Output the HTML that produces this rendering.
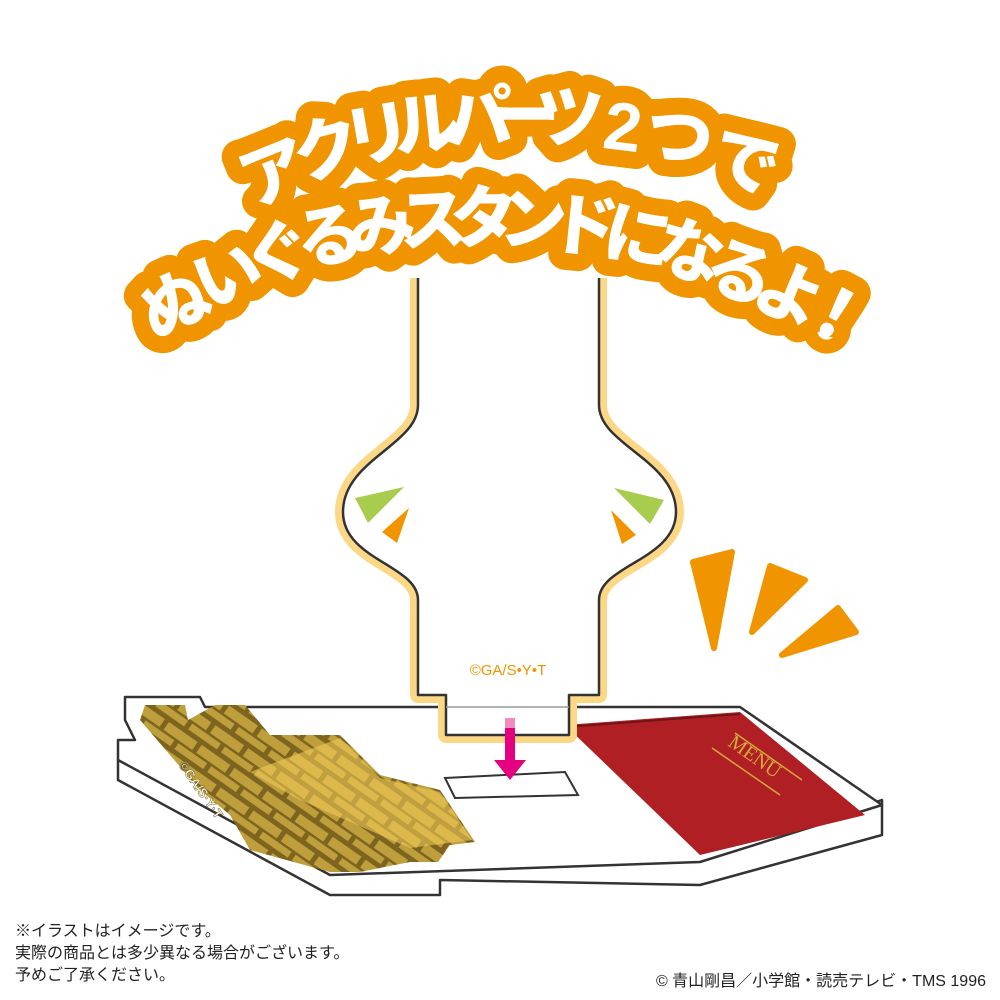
<!DOCTYPE html>
<html><head><meta charset="utf-8"><style>
body{margin:0;background:#fff;}
svg{display:block}
</style></head><body>
<svg width="1000" height="1000" viewBox="0 0 1000 1000" xmlns="http://www.w3.org/2000/svg">
<defs>
<pattern id="brick" width="40" height="24" patternUnits="userSpaceOnUse" patternTransform="rotate(35)">
<rect width="40" height="24" fill="#bf9e3c"/>
<path d="M0 0H40M0 12H40M10 0V12M30 12V24" stroke="#7d6520" stroke-width="5" fill="none"/>
</pattern>
</defs>
<!-- Title -->
<g font-family="'Liberation Sans','Noto Sans CJK JP',sans-serif" font-weight="900" font-size="68" text-anchor="middle">
<g fill="#f09400" stroke="#f09400" stroke-width="34" stroke-linejoin="round">
<text transform="translate(283,195) rotate(-22)">ア</text>
<text transform="translate(333,172) rotate(-15)">ク</text>
<text transform="translate(382,158) rotate(-10)">リ</text>
<text transform="translate(430,148) rotate(-6)">ル</text>
<text transform="translate(480,142) rotate(-3)">パ</text>
<text transform="translate(526,140)">ー</text>
<text transform="translate(568,142) rotate(3)">ツ</text>
<text transform="translate(620,150) rotate(7)">2</text>
<text transform="translate(674,160) rotate(12)">つ</text>
<text transform="translate(738,185) rotate(18)">で</text>
<text transform="translate(185,325) rotate(-25)">ぬ</text>
<text transform="translate(236,298) rotate(-20)">い</text>
<text transform="translate(284,276) rotate(-15)">ぐ</text>
<text transform="translate(334,260) rotate(-10)">る</text>
<text transform="translate(384,250) rotate(-6)">み</text>
<text transform="translate(434,244) rotate(-3)">ス</text>
<text transform="translate(484,242)">タ</text>
<text transform="translate(532,244) rotate(3)">ン</text>
<text transform="translate(582,250) rotate(6)">ド</text>
<text transform="translate(634,260) rotate(10)">に</text>
<text transform="translate(684,275) rotate(15)">な</text>
<text transform="translate(732,295) rotate(20)">る</text>
<text transform="translate(780,316) rotate(24)">よ</text>
<text transform="translate(824,335) rotate(28)">！</text>
</g>
<g fill="#fff">
<text transform="translate(283,195) rotate(-22)">ア</text>
<text transform="translate(333,172) rotate(-15)">ク</text>
<text transform="translate(382,158) rotate(-10)">リ</text>
<text transform="translate(430,148) rotate(-6)">ル</text>
<text transform="translate(480,142) rotate(-3)">パ</text>
<text transform="translate(526,140)">ー</text>
<text transform="translate(568,142) rotate(3)">ツ</text>
<text transform="translate(620,150) rotate(7)">2</text>
<text transform="translate(674,160) rotate(12)">つ</text>
<text transform="translate(738,185) rotate(18)">で</text>
<text transform="translate(185,325) rotate(-25)">ぬ</text>
<text transform="translate(236,298) rotate(-20)">い</text>
<text transform="translate(284,276) rotate(-15)">ぐ</text>
<text transform="translate(334,260) rotate(-10)">る</text>
<text transform="translate(384,250) rotate(-6)">み</text>
<text transform="translate(434,244) rotate(-3)">ス</text>
<text transform="translate(484,242)">タ</text>
<text transform="translate(532,244) rotate(3)">ン</text>
<text transform="translate(582,250) rotate(6)">ド</text>
<text transform="translate(634,260) rotate(10)">に</text>
<text transform="translate(684,275) rotate(15)">な</text>
<text transform="translate(732,295) rotate(20)">る</text>
<text transform="translate(780,316) rotate(24)">よ</text>
<text transform="translate(824,335) rotate(28)">！</text>
</g>
</g>
<!-- orange rays -->
<polygon points="693,562 732,552 714,648" fill="#f09400" stroke="#f09400" stroke-width="6" stroke-linejoin="round"/>
<polygon points="770,566 805,580 752,632" fill="#f09400" stroke="#f09400" stroke-width="6" stroke-linejoin="round"/>
<polygon points="838,608 856,632 782,655" fill="#f09400" stroke="#f09400" stroke-width="6" stroke-linejoin="round"/>
<!-- Base -->
<polygon points="118,760 118,780 330,895 440,895 440,880 700,885 882,835 882,800 700,860 440,860" fill="#fff" stroke="#333" stroke-width="2.5" stroke-linejoin="round"/>
<polygon points="125,697 200,697 205,707 740,707 882,805 700,862 330,875 118,760 118,740 135,740 125,720" fill="#fff" stroke="#333" stroke-width="2.5" stroke-linejoin="round"/>
<polygon points="145,705 185,705 188,720 215,705 245,705 270,735 340,735 380,775 440,790 475,842 450,845 438,862 410,862 360,872 330,872 250,850 230,815 200,790 140,720" fill="url(#brick)"/>
<polygon points="250,772 340,738 380,778 440,792 472,840 410,848 300,800" fill="#f5cf5a" opacity="0.55"/>
<text transform="translate(178,765) rotate(55)" font-family="'Liberation Sans',sans-serif" font-size="13" font-weight="bold" fill="#fff" stroke="#7d6520" stroke-width="0.5">©GA/S·Y·T</text>
<polygon points="445,778 565,772 578,795 455,798" fill="#fff" stroke="#333" stroke-width="2"/>
<!-- menu -->
<polygon points="565,725 740,712 865,815 700,855" fill="#b01f24"/>
<line x1="565" y1="727" x2="740" y2="714" stroke="#6e1518" stroke-width="2"/>
<text transform="translate(727,745) rotate(35)" font-family="'Liberation Serif',serif" font-size="20" fill="#d4a93a">MENU</text>
<line x1="712" y1="748" x2="780" y2="795" stroke="#d4a93a" stroke-width="1.5"/>
<line x1="735" y1="733" x2="802" y2="780" stroke="#d4a93a" stroke-width="1.5"/>
<!-- stand -->
<path d="M418,278 V405 C418,445 343,460 343,512 C343,560 418,565 418,600 V695 H446 V735 H569 V695 H599 V600 C599,565 676,560 676,512 C676,460 599,445 599,405 V278" fill="none" stroke="#fcd886" stroke-width="16" stroke-linejoin="round"/>
<path d="M418,278 V405 C418,445 343,460 343,512 C343,560 418,565 418,600 V695 H446 V735 H569 V695 H599 V600 C599,565 676,560 676,512 C676,460 599,445 599,405 V278" fill="#fff" stroke="#333" stroke-width="2.5" stroke-linejoin="round"/>
<line x1="446" y1="707" x2="569" y2="707" stroke="#999" stroke-width="1.5"/>
<text x="508" y="675" text-anchor="middle" font-family="'Liberation Sans',sans-serif" font-size="15" fill="#f09400">©GA/S•Y•T</text>
<polygon points="355,498 404,487 368,523" fill="#a8cc4e"/>
<polygon points="409,508 397,543 382,532" fill="#f09400"/>
<polygon points="614,488 664,500 650,524" fill="#a8cc4e"/>
<polygon points="611,510 636,535 622,544" fill="#f09400"/>
<!-- arrow -->
<rect x="505" y="718" width="10" height="10" fill="#f28cc0"/>
<rect x="505" y="728" width="10" height="34" fill="#e4007f"/>
<polygon points="494,760 526,760 510,780" fill="#e4007f"/>
<!-- notes -->
<g font-family="'Liberation Sans','Noto Sans CJK JP',sans-serif" font-size="16" fill="#222">
<text x="15" y="936">※イラストはイメージです。</text>
<text x="15" y="958">実際の商品とは多少異なる場合がございます。</text>
<text x="15" y="980">予めご了承ください。</text>
<text x="986" y="986" text-anchor="end">© 青山剛昌／小学館・読売テレビ・TMS 1996</text>
</g>
</svg>
</body></html>
